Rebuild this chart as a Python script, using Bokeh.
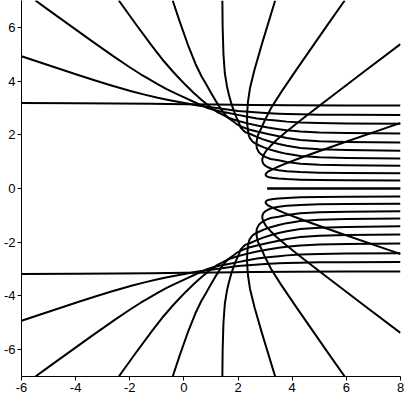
from bokeh.plotting import figure
from bokeh.embed import file_html
from bokeh.resources import INLINE
from bokeh.models import FixedTicker, Range1d

# Axis ticks
x_ticks = [-6, -4, -2, 0, 2, 4, 6, 8]
y_ticks = [-6, -4, -2, 0, 2, 4, 6]

# Upper-half curves (the figure is mirror-symmetric about y = 0).
# Each curve: comes in from the right, turns near the r ~ 3.1 envelope, leaves to its exit.
c0_x = [8.0, 3.08]
c0_y = [0.0, 0.0]

c1_x = [8, 6, 5, 4.3, 3.8, 3.5, 3.3, 3.15, 3.07, 3.03, 3.018,
        3.020, 3.048, 3.113, 3.249, 3.430, 3.707, 4.173, 4.830, 5.772, 7.662, 8.0]
c1_y = [0.30, 0.305, 0.315, 0.33, 0.35, 0.37, 0.395, 0.415, 0.445, 0.475, 0.505,
        0.537, 0.579, 0.633, 0.701, 0.790, 0.906, 1.088, 1.330, 1.666, 2.321, 2.437]

c2_x = [8, 6, 5, 4.3, 3.8, 3.5, 3.25, 3.08, 2.98, 2.93, 2.909,
        2.895, 2.898, 2.935, 3.027, 3.196, 3.411, 3.791, 4.336, 5.123, 6.709, 8.0]
c2_y = [0.57, 0.578, 0.59, 0.61, 0.64, 0.68, 0.73, 0.80, 0.87, 0.93, 0.982,
        1.036, 1.114, 1.230, 1.389, 1.580, 1.794, 2.121, 2.561, 3.176, 4.395, 5.378]

c3_x = [8, 6, 5, 4.3, 3.8, 3.5, 3.2, 3.0, 2.86, 2.77, 2.732,
        2.695, 2.680, 2.688, 2.737, 2.868, 2.991, 3.220, 3.593, 4.151, 5.285, 5.939]
c3_y = [0.85, 0.865, 0.885, 0.92, 0.99, 1.05, 1.10, 1.18, 1.27, 1.35, 1.422,
        1.495, 1.615, 1.781, 1.990, 2.265, 2.545, 2.995, 3.588, 4.419, 6.066, 7.0]

c4_x = [8, 6, 5, 4.3, 3.8, 3.5, 3.2, 2.95, 2.75, 2.6, 2.52, 2.482,
        2.433, 2.399, 2.368, 2.342, 2.331, 2.344, 2.367, 2.441, 2.607, 2.882, 3.37]
c4_y = [1.12, 1.14, 1.165, 1.21, 1.29, 1.36, 1.44, 1.53, 1.62, 1.70, 1.76, 1.823,
        1.879, 1.973, 2.140, 2.358, 2.622, 2.933, 3.240, 3.741, 4.423, 5.384, 7.0]

c5_x = [8, 6, 5, 4.3, 3.8, 3.5, 3.2, 2.9, 2.65, 2.45, 2.28, 2.176,
        2.09, 2.03, 1.94, 1.84, 1.74, 1.66, 1.59, 1.51, 1.46, 1.43, 1.42]
c5_y = [1.41, 1.43, 1.46, 1.51, 1.59, 1.66, 1.74, 1.84, 1.94, 2.03, 2.09, 2.18,
        2.28, 2.45, 2.65, 2.90, 3.20, 3.50, 3.80, 4.30, 5.0, 6.0, 7.0]

c6_x = [8, 6, 5, 4.3, 3.8, 3.5, 3.1, 2.7, 2.4, 2.15, 1.98, 1.825,
        1.665, 1.533, 1.371, 1.204, 0.998, 0.796, 0.643, 0.425, 0.166, -0.165, -0.414]
c6_y = [1.71, 1.73, 1.76, 1.81, 1.88, 1.945, 2.03, 2.12, 2.20, 2.29, 2.375, 2.494,
        2.605, 2.742, 2.953, 3.215, 3.569, 3.924, 4.191, 4.646, 5.298, 6.242, 7.0]

c7_x = [8, 6, 5, 4.3, 3.8, 3.5, 3.1, 2.7, 2.35, 2.05, 1.8, 1.6, 1.429,
        1.252, 1.076, 0.870, 0.633, 0.366, 0.075, -0.204, -0.410, -0.738, -1.169, -1.761, -2.406]
c7_y = [2.05, 2.065, 2.085, 2.12, 2.17, 2.21, 2.27, 2.345, 2.425, 2.505, 2.58, 2.655, 2.751,
        2.836, 2.956, 3.117, 3.317, 3.557, 3.841, 4.134, 4.357, 4.737, 5.289, 6.096, 7.0]

c8_x = [8, 6, 5, 4.3, 3.8, 3.5, 3.1, 2.7, 2.3, 1.95, 1.6, 1.3, 1.12, 0.969,
        0.821, 0.652, 0.374, 0.050, -0.273, -0.638, -0.990, -1.336, -1.596, -2.017, -2.597, -3.413, -5.033, -5.484]
c8_y = [2.41, 2.42, 2.435, 2.46, 2.49, 2.52, 2.56, 2.61, 2.68, 2.75, 2.82, 2.88, 2.92, 2.966,
        3.018, 3.092, 3.221, 3.371, 3.521, 3.701, 3.897, 4.101, 4.253, 4.525, 4.918, 5.497, 6.670, 7.0]

c9_x = [8, 6, 5, 4.3, 3.8, 3.5, 3.0, 2.5, 2.0, 1.6, 1.2, 0.85, 0.509,
        0.171, -0.177, -0.573, -0.968, -1.456, -1.941, -2.422, -2.709, -3.188, -3.854, -4.803, -6.0]
c9_y = [2.74, 2.745, 2.75, 2.76, 2.775, 2.785, 2.81, 2.845, 2.89, 2.94, 2.995, 3.045, 3.088,
        3.157, 3.222, 3.298, 3.378, 3.496, 3.624, 3.760, 3.846, 3.993, 4.208, 4.524, 4.925]

c10_x = [8, 6, 4, 2.5, 1.2, 0.025, -1.2, -2.5, -4, -6]
c10_y = [3.09, 3.092, 3.097, 3.108, 3.125, 3.14, 3.155, 3.165, 3.174, 3.186]

upper = [(c0_x, c0_y), (c1_x, c1_y), (c2_x, c2_y), (c3_x, c3_y), (c4_x, c4_y),
         (c5_x, c5_y), (c6_x, c6_y), (c7_x, c7_y), (c8_x, c8_y), (c9_x, c9_y),
         (c10_x, c10_y)]

p = figure(frame_width=379, frame_height=376,
           x_range=Range1d(-6, 8), y_range=Range1d(-7, 7),
           output_backend="svg", toolbar_location=None,
           min_border_left=20, min_border_right=6, min_border_top=0, min_border_bottom=22)

for xs, ys in upper:
    p.line(xs, ys, line_color="black", line_width=2, line_join="round")
    p.line(xs, [-v for v in ys], line_color="black", line_width=2, line_join="round")

p.outline_line_color = None
p.xgrid.visible = False
p.ygrid.visible = False
p.xaxis.ticker = FixedTicker(ticks=x_ticks)
p.yaxis.ticker = FixedTicker(ticks=y_ticks)
p.xaxis.major_label_overrides = {t: str(t) for t in x_ticks}
p.yaxis.major_label_overrides = {t: str(t) for t in y_ticks}
for ax in (p.xaxis[0], p.yaxis[0]):
    ax.minor_tick_line_color = None
    ax.major_tick_in = 0
    ax.major_tick_out = 4
    ax.axis_line_color = "black"
    ax.axis_line_width = 1
    ax.major_tick_line_color = "black"
    ax.major_label_text_font = "Liberation Sans"
    ax.major_label_text_font_size = "13px"
    ax.major_label_text_color = "black"
    ax.major_label_standoff = 2
p.background_fill_color = "white"
p.border_fill_color = "white"

open("out.html", "w").write(file_html(p, INLINE))
